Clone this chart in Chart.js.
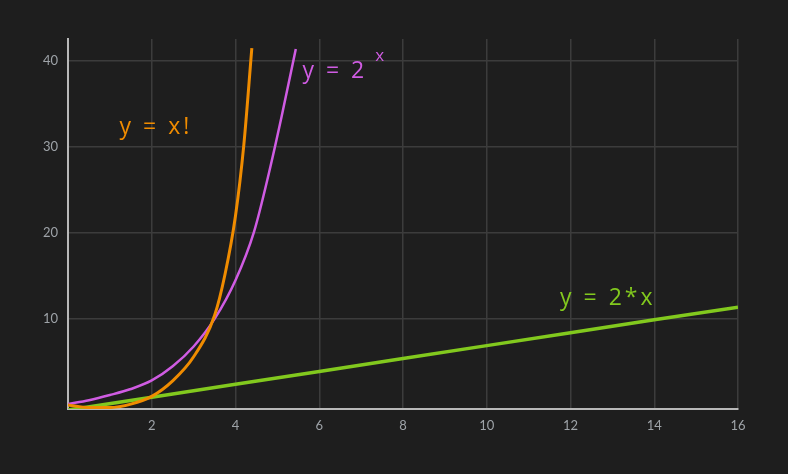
<!DOCTYPE html>
<html>
<head>
<meta charset="utf-8">
<script src="https://cdn.jsdelivr.net/npm/chart.js@4"></script>
<style>
  html, body { margin: 0; padding: 0; background: #1e1e1e; }
  #wrap { width: 788px; height: 474px; }
</style>
</head>
<body>
<div id="wrap"><canvas id="chart" width="788" height="474"></canvas></div>
<script>
// values
const factX = [0, 0.5, 1, 1.5, 2, 2.5, 3, 3.5, 3.75, 4, 4.2, 4.39];
const factY = [0, -0.3, -0.3, 0.1, 1.0, 2.8, 5.6, 10.4, 15.2, 22.0, 30.3, 41.5];
const powX = [0, 0.5, 1, 1.5, 2, 2.5, 3, 3.5, 4, 4.44, 4.8, 5.1, 5.44];
const powY = [0.1, 0.55, 1.15, 1.85, 2.85, 4.5, 6.8, 10.0, 14.5, 20.1, 27.0, 33.5, 41.4];
const linX = [0, 2, 4, 6, 8, 10, 12, 14, 16];
const linY = [-0.6, 0.9, 2.4, 3.9, 5.4, 6.9, 8.4, 9.9, 11.35];
const xTicks = [2, 4, 6, 8, 10, 12, 14, 16];
const yTicks = [10, 20, 30, 40];

const labels = [
    { text: 'y = x!', x: 1.23, y: 32.3, color: '#f08c00' },
    { text: 'y = 2', sup: 'x', x: 5.6, y: 38.8, color: '#d05ce3' },
    { text: 'y = 2*x', x: 11.75, y: 12.4, color: '#82c91e' }
];

const pts = (xs, ys) => xs.map((x, i) => ({ x, y: ys[i] }));

const textPlugin = {
    id: 'curveLabels',
    afterDatasetsDraw(chart) {
        const { ctx, scales } = chart;
        ctx.save();
        ctx.textBaseline = 'middle';
        ctx.textAlign = 'left';
        ctx.letterSpacing = '3px';
        labels.forEach(l => {
            const px = scales.x.getPixelForValue(l.x);
            const py = scales.y.getPixelForValue(l.y);
            ctx.fillStyle = l.color;
            ctx.font = '23px "Open Sans", sans-serif';
            ctx.fillText(l.text, px, py);
            if (l.sup) {
                const w = ctx.measureText(l.text).width;
                ctx.font = '17px "Open Sans", sans-serif';
                ctx.fillText(l.sup, px + w + 8, py - 15);
            }
        });
        ctx.restore();
    }
};

const tickFont = { family: 'Lato, sans-serif', size: 13 };

new Chart(document.getElementById('chart').getContext('2d'), {
    type: 'line',
    data: {
        datasets: [
            { label: 'x!', data: pts(factX, factY), borderColor: '#f08c00', borderWidth: 3, pointRadius: 0, cubicInterpolationMode: 'monotone' },
            { label: '2^x', data: pts(powX, powY), borderColor: '#d05ce3', borderWidth: 2.5, pointRadius: 0, cubicInterpolationMode: 'monotone' },
            { label: '2*x', data: pts(linX, linY), borderColor: '#82c91e', borderWidth: 3.5, pointRadius: 0 }
        ]
    },
    options: {
        responsive: false,
        animation: false,
        layout: { padding: { left: 0, top: 39, right: 50, bottom: 0 } },
        plugins: { legend: { display: false }, tooltip: { enabled: false } },
        scales: {
            x: {
                type: 'linear', min: 0, max: 16,
                afterBuildTicks: s => { s.ticks = xTicks.map(v => ({ value: v })); },
                afterFit: s => { s.height = 65; },
                grid: { color: '#3c3c3c', lineWidth: 1.5, drawTicks: false },
                border: { color: '#b8b8b8', width: 2 },
                ticks: { color: '#9ea3a8', font: tickFont, padding: 9, maxRotation: 0 }
            },
            y: {
                type: 'linear', min: -0.47, max: 42.55,
                afterBuildTicks: s => { s.ticks = yTicks.map(v => ({ value: v })); },
                afterFit: s => { s.width = 68; },
                grid: { color: '#3c3c3c', lineWidth: 1.5, drawTicks: false },
                border: { color: '#b8b8b8', width: 2 },
                ticks: { color: '#9ea3a8', font: tickFont, padding: 10 }
            }
        }
    },
    plugins: [textPlugin]
});
</script>
</body>
</html>
